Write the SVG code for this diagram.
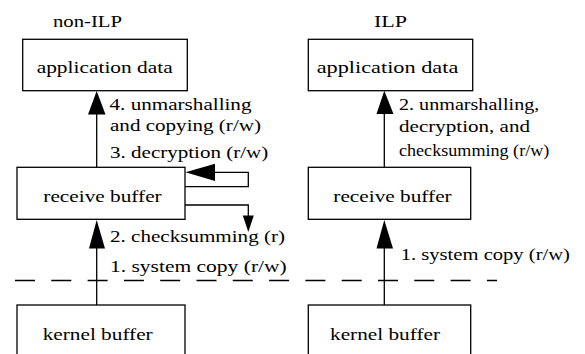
<svg xmlns="http://www.w3.org/2000/svg" width="585" height="354" viewBox="0 0 585 354" font-family="Liberation Serif, Times New Roman, Times, Tinos, Nimbus Roman, FreeSerif, Noto Serif, DejaVu Serif, serif">
  <style>
    .box { fill: #fff; stroke: #000; stroke-width: 1.3; }
    text { font-family: "Liberation Serif", "Times New Roman", Times, Tinos, "Nimbus Roman", FreeSerif, "Noto Serif", "DejaVu Serif", serif; font-size: 17px; fill: #000; }
    .wire { fill: none; stroke: #000; stroke-width: 1.3; }
    .head { fill: #000; stroke: none; }
    .sep { fill: none; stroke: #000; stroke-width: 1.3; stroke-dasharray: 20 16.3; }
  </style>
  <rect width="585" height="354" fill="#fff"/>

  <!-- column titles -->
  <text x="53" y="27" textLength="69" lengthAdjust="spacingAndGlyphs">non-ILP</text>
  <text x="374" y="27" textLength="33" lengthAdjust="spacingAndGlyphs">ILP</text>

  <!-- user / kernel boundary -->
  <line class="sep" x1="15" y1="280.5" x2="497" y2="280.5"/>

  <g id="connectors">
    <!-- non-ILP: receive buffer -> application data -->
    <line class="wire" x1="96.7" y1="167.3" x2="96.7" y2="112"/>
    <polygon class="head" points="96.7,91 88,114.5 105.5,114.5"/>
    <!-- non-ILP: kernel buffer -> receive buffer -->
    <line class="wire" x1="96.7" y1="305" x2="96.7" y2="246"/>
    <polygon class="head" points="96.7,220 89,248.5 105,248.5"/>
    <!-- decryption loop back into receive buffer -->
    <polyline class="wire" points="185,186.7 248.3,186.7 248.3,172.3 213,172.3"/>
    <polygon class="head" points="185.5,172.3 215,163.8 215,181"/>
    <!-- checksumming read-out -->
    <polyline class="wire" points="185,205 248.3,205 248.3,218"/>
    <polygon class="head" points="248.3,232 242.8,215.5 253.8,215.5"/>
    <!-- ILP: receive buffer -> application data -->
    <line class="wire" x1="384.3" y1="167.3" x2="384.3" y2="112"/>
    <polygon class="head" points="384.3,90.7 376.5,114 393.5,114"/>
    <!-- ILP: kernel buffer -> receive buffer -->
    <line class="wire" x1="384.3" y1="305" x2="384.3" y2="246"/>
    <polygon class="head" points="384.3,220 376.5,248.5 393,248.5"/>
  </g>

  <!-- non-ILP nodes -->
  <g id="app-data-left">
    <rect class="box" x="22.7" y="39.3" width="164.6" height="51.4"/>
    <text x="36.7" y="73" textLength="136" lengthAdjust="spacingAndGlyphs">application data</text>
  </g>
  <g id="recv-buf-left">
    <rect class="box" x="17" y="167.3" width="168" height="52"/>
    <text x="43.3" y="201.7" textLength="118.4" lengthAdjust="spacingAndGlyphs">receive buffer</text>
  </g>
  <g id="kernel-buf-left">
    <rect class="box" x="17" y="305" width="168" height="60"/>
    <text x="42.7" y="340" textLength="110" lengthAdjust="spacingAndGlyphs">kernel buffer</text>
  </g>

  <!-- ILP nodes -->
  <g id="app-data-right">
    <rect class="box" x="308.3" y="39.3" width="164.4" height="51.4"/>
    <text x="316.7" y="73" textLength="141.6" lengthAdjust="spacingAndGlyphs">application data</text>
  </g>
  <g id="recv-buf-right">
    <rect class="box" x="308.3" y="167.3" width="162.4" height="52"/>
    <text x="333.3" y="201.7" textLength="118.4" lengthAdjust="spacingAndGlyphs">receive buffer</text>
  </g>
  <g id="kernel-buf-right">
    <rect class="box" x="308.3" y="305" width="162.4" height="60"/>
    <text x="330" y="340" textLength="110" lengthAdjust="spacingAndGlyphs">kernel buffer</text>
  </g>

  <!-- step labels -->
  <g id="labels-left">
    <text x="109.5" y="110" textLength="142" lengthAdjust="spacingAndGlyphs">4. unmarshalling</text>
    <text x="110" y="131" textLength="151" lengthAdjust="spacingAndGlyphs">and copying (r/w)</text>
    <text x="110" y="158" textLength="158.3" lengthAdjust="spacingAndGlyphs">3. decryption (r/w)</text>
    <text x="110" y="241.7" textLength="175" lengthAdjust="spacingAndGlyphs">2. checksumming (r)</text>
    <text x="110" y="271.7" textLength="176.7" lengthAdjust="spacingAndGlyphs">1. system copy (r/w)</text>
  </g>
  <g id="labels-right">
    <text x="399" y="110" textLength="140.3" lengthAdjust="spacingAndGlyphs">2. unmarshalling,</text>
    <text x="399" y="132" textLength="131" lengthAdjust="spacingAndGlyphs">decryption, and</text>
    <text x="399" y="156" textLength="150.3" lengthAdjust="spacingAndGlyphs">checksumming (r/w)</text>
    <text x="400.7" y="260" textLength="169.3" lengthAdjust="spacingAndGlyphs">1. system copy (r/w)</text>
  </g>
</svg>
